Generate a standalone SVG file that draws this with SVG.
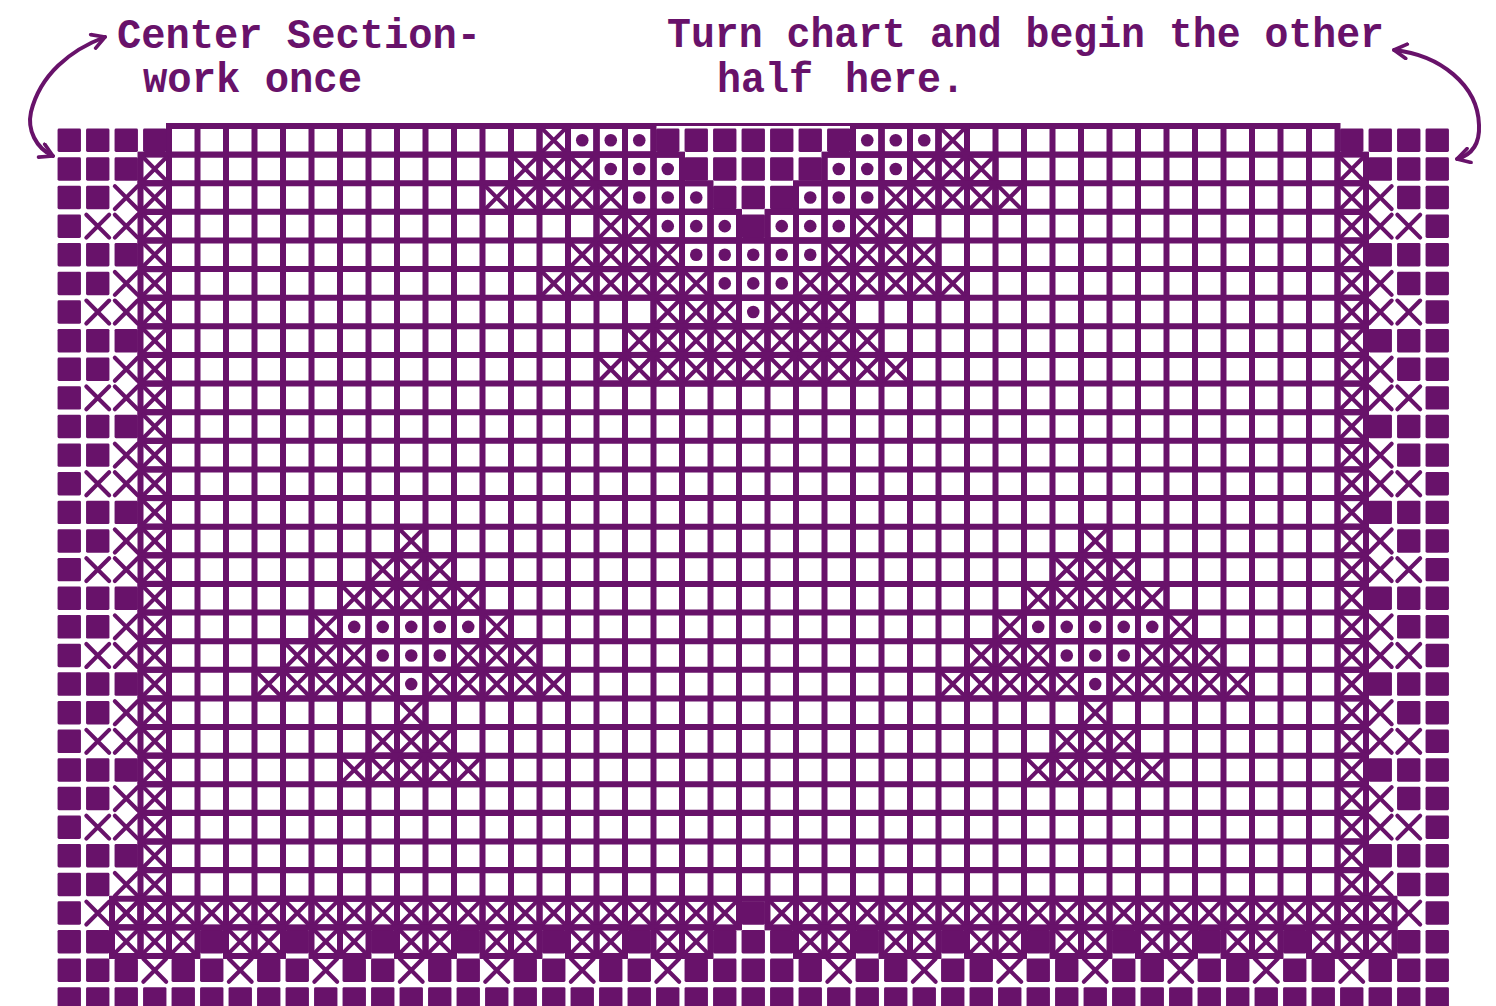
<svg xmlns="http://www.w3.org/2000/svg" width="1496" height="1006" viewBox="0 0 1496 1006">
<style>
.p{fill:#68126a}
.b{fill:none;stroke:#68126a;stroke-width:.21}
.s{fill:none;stroke:#68126a;stroke-width:.145;stroke-linecap:round}
.g{fill:none;stroke:#68126a;stroke-width:.21;stroke-linecap:square}
.t{font-family:"Liberation Mono","DejaVu Sans Mono",monospace;font-weight:bold;font-size:42px;fill:#68126a}
.a{fill:none;stroke:#68126a;stroke-width:4;stroke-linecap:round}
</style>
<defs>
<marker id="ah" viewBox="0 0 10 10" refX="8.5" refY="5" markerWidth="4.5" markerHeight="4.5" orient="auto-start-reverse"><path d="M1.5 1L8.5 5L1.5 9" fill="none" stroke="#68126a" stroke-width="2" stroke-linecap="round" stroke-linejoin="round"/></marker>
<rect id="f" x=".09" y=".09" width=".82" height=".82" rx=".05" class="p"/>
<path id="u" d="M.1 .1L.9 .9M.9 .1L.1 .9" class="s"/>
<g id="x"><rect width="1" height="1" class="b"/><use href="#u"/></g>
<g id="d"><rect width="1" height="1" class="b"/><circle cx=".5" cy=".5" r=".22" class="p"/></g>
<g id="b1"><use href="#f" x="0"/><use href="#f" x="1"/><use href="#f" x="2"/><use href="#x" x="3"/><use href="#x" x="45"/><use href="#f" x="46"/><use href="#f" x="47"/><use href="#f" x="48"/></g>
<g id="b2"><use href="#f" x="0"/><use href="#f" x="1"/><use href="#u" x="2"/><use href="#x" x="3"/><use href="#x" x="45"/><use href="#u" x="46"/><use href="#f" x="47"/><use href="#f" x="48"/></g>
<g id="b0"><use href="#f" x="0"/><use href="#u" x="1"/><use href="#u" x="2"/><use href="#x" x="3"/><use href="#x" x="45"/><use href="#u" x="46"/><use href="#u" x="47"/><use href="#f" x="48"/></g>
</defs>
<rect width="1496" height="1006" fill="#fff"/>
<g id="chart" transform="translate(55,126) scale(28.5,28.62)">
<path id="grid" class="g" d="M4 0V27M5 0V27M6 0V27M7 0V27M8 0V27M9 0V27M10 0V27M11 0V27M12 0V27M13 0V27M14 0V27M15 0V27M16 0V27M17 0V27M18 0V27M19 0V27M20 0V27M21 0V27M22 0V27M23 0V27M24 0V27M25 0V27M26 0V27M27 0V27M28 0V27M29 0V27M30 0V27M31 0V27M32 0V27M33 0V27M34 0V27M35 0V27M36 0V27M37 0V27M38 0V27M39 0V27M40 0V27M41 0V27M42 0V27M43 0V27M44 0V27M45 0V27M4 0H45M4 1H45M4 2H45M4 3H45M4 4H45M4 5H45M4 6H45M4 7H45M4 8H45M4 9H45M4 10H45M4 11H45M4 12H45M4 13H45M4 14H45M4 15H45M4 16H45M4 17H45M4 18H45M4 19H45M4 20H45M4 21H45M4 22H45M4 23H45M4 24H45M4 25H45M4 26H45M4 27H45"/>
<path d="M21 0H28V1H27V2H26V3H25V4H24V3H23V2H22V1H21Z" fill="#fff"/>
<g id="border">
<use href="#b1" y="1"/><use href="#b2" y="2"/><use href="#b0" y="3"/>
<use href="#b1" y="4"/><use href="#b2" y="5"/><use href="#b0" y="6"/>
<use href="#b1" y="7"/><use href="#b2" y="8"/><use href="#b0" y="9"/>
<use href="#b1" y="10"/><use href="#b2" y="11"/><use href="#b0" y="12"/>
<use href="#b1" y="13"/><use href="#b2" y="14"/><use href="#b0" y="15"/>
<use href="#b1" y="16"/><use href="#b2" y="17"/><use href="#b0" y="18"/>
<use href="#b1" y="19"/><use href="#b2" y="20"/><use href="#b0" y="21"/>
<use href="#b1" y="22"/><use href="#b2" y="23"/><use href="#b0" y="24"/>
<use href="#b1" y="25"/><use href="#b2" y="26"/><use href="#b0" y="27"/>
</g>
<g id="filled">
<g><use href="#f" x="0"/><use href="#f" x="1"/><use href="#f" x="2"/><use href="#f" x="3"/><use href="#f" x="21"/><use href="#f" x="22"/><use href="#f" x="23"/><use href="#f" x="24"/><use href="#f" x="25"/><use href="#f" x="26"/><use href="#f" x="27"/><use href="#f" x="45"/><use href="#f" x="46"/><use href="#f" x="47"/><use href="#f" x="48"/></g>
<g transform="translate(0,1)"><use href="#f" x="22"/><use href="#f" x="23"/><use href="#f" x="24"/><use href="#f" x="25"/><use href="#f" x="26"/></g>
<g transform="translate(0,2)"><use href="#f" x="23"/><use href="#f" x="24"/><use href="#f" x="25"/></g>
<g transform="translate(0,3)"><use href="#f" x="24"/></g>
<g transform="translate(0,27)"><use href="#f" x="24"/></g>
<g transform="translate(0,28)"><use href="#f" x="0"/><use href="#f" x="1"/><use href="#f" x="5"/><use href="#f" x="8"/><use href="#f" x="11"/><use href="#f" x="14"/><use href="#f" x="17"/><use href="#f" x="20"/><use href="#f" x="23"/><use href="#f" x="24"/><use href="#f" x="25"/><use href="#f" x="28"/><use href="#f" x="31"/><use href="#f" x="34"/><use href="#f" x="37"/><use href="#f" x="40"/><use href="#f" x="43"/><use href="#f" x="47"/><use href="#f" x="48"/></g>
<g transform="translate(0,29)"><use href="#f" x="0"/><use href="#f" x="1"/><use href="#f" x="2"/><use href="#f" x="4"/><use href="#f" x="5"/><use href="#f" x="7"/><use href="#f" x="8"/><use href="#f" x="10"/><use href="#f" x="11"/><use href="#f" x="13"/><use href="#f" x="14"/><use href="#f" x="16"/><use href="#f" x="17"/><use href="#f" x="19"/><use href="#f" x="20"/><use href="#f" x="22"/><use href="#f" x="23"/><use href="#f" x="24"/><use href="#f" x="25"/><use href="#f" x="26"/><use href="#f" x="28"/><use href="#f" x="29"/><use href="#f" x="31"/><use href="#f" x="32"/><use href="#f" x="34"/><use href="#f" x="35"/><use href="#f" x="37"/><use href="#f" x="38"/><use href="#f" x="40"/><use href="#f" x="41"/><use href="#f" x="43"/><use href="#f" x="44"/><use href="#f" x="46"/><use href="#f" x="47"/><use href="#f" x="48"/></g>
<g transform="translate(0,30)"><use href="#f" x="0"/><use href="#f" x="1"/><use href="#f" x="2"/><use href="#f" x="3"/><use href="#f" x="4"/><use href="#f" x="5"/><use href="#f" x="6"/><use href="#f" x="7"/><use href="#f" x="8"/><use href="#f" x="9"/><use href="#f" x="10"/><use href="#f" x="11"/><use href="#f" x="12"/><use href="#f" x="13"/><use href="#f" x="14"/><use href="#f" x="15"/><use href="#f" x="16"/><use href="#f" x="17"/><use href="#f" x="18"/><use href="#f" x="19"/><use href="#f" x="20"/><use href="#f" x="21"/><use href="#f" x="22"/><use href="#f" x="23"/><use href="#f" x="24"/><use href="#f" x="25"/><use href="#f" x="26"/><use href="#f" x="27"/><use href="#f" x="28"/><use href="#f" x="29"/><use href="#f" x="30"/><use href="#f" x="31"/><use href="#f" x="32"/><use href="#f" x="33"/><use href="#f" x="34"/><use href="#f" x="35"/><use href="#f" x="36"/><use href="#f" x="37"/><use href="#f" x="38"/><use href="#f" x="39"/><use href="#f" x="40"/><use href="#f" x="41"/><use href="#f" x="42"/><use href="#f" x="43"/><use href="#f" x="44"/><use href="#f" x="45"/><use href="#f" x="46"/><use href="#f" x="47"/><use href="#f" x="48"/></g>
</g>
<g id="top-motif">
<g><use href="#x" x="17"/><use href="#d" x="18"/><use href="#d" x="19"/><use href="#d" x="20"/><use href="#d" x="28"/><use href="#d" x="29"/><use href="#d" x="30"/><use href="#x" x="31"/></g>
<g transform="translate(0,1)"><use href="#x" x="16"/><use href="#x" x="17"/><use href="#x" x="18"/><use href="#d" x="19"/><use href="#d" x="20"/><use href="#d" x="21"/><use href="#d" x="27"/><use href="#d" x="28"/><use href="#d" x="29"/><use href="#x" x="30"/><use href="#x" x="31"/><use href="#x" x="32"/></g>
<g transform="translate(0,2)"><use href="#x" x="15"/><use href="#x" x="16"/><use href="#x" x="17"/><use href="#x" x="18"/><use href="#x" x="19"/><use href="#d" x="20"/><use href="#d" x="21"/><use href="#d" x="22"/><use href="#d" x="26"/><use href="#d" x="27"/><use href="#d" x="28"/><use href="#x" x="29"/><use href="#x" x="30"/><use href="#x" x="31"/><use href="#x" x="32"/><use href="#x" x="33"/></g>
<g transform="translate(0,3)"><use href="#x" x="19"/><use href="#x" x="20"/><use href="#d" x="21"/><use href="#d" x="22"/><use href="#d" x="23"/><use href="#d" x="25"/><use href="#d" x="26"/><use href="#d" x="27"/><use href="#x" x="28"/><use href="#x" x="29"/></g>
<g transform="translate(0,4)"><use href="#x" x="18"/><use href="#x" x="19"/><use href="#x" x="20"/><use href="#x" x="21"/><use href="#d" x="22"/><use href="#d" x="23"/><use href="#d" x="24"/><use href="#d" x="25"/><use href="#d" x="26"/><use href="#x" x="27"/><use href="#x" x="28"/><use href="#x" x="29"/><use href="#x" x="30"/></g>
<g transform="translate(0,5)"><use href="#x" x="17"/><use href="#x" x="18"/><use href="#x" x="19"/><use href="#x" x="20"/><use href="#x" x="21"/><use href="#x" x="22"/><use href="#d" x="23"/><use href="#d" x="24"/><use href="#d" x="25"/><use href="#x" x="26"/><use href="#x" x="27"/><use href="#x" x="28"/><use href="#x" x="29"/><use href="#x" x="30"/><use href="#x" x="31"/></g>
<g transform="translate(0,6)"><use href="#x" x="21"/><use href="#x" x="22"/><use href="#x" x="23"/><use href="#d" x="24"/><use href="#x" x="25"/><use href="#x" x="26"/><use href="#x" x="27"/></g>
<g transform="translate(0,7)"><use href="#x" x="20"/><use href="#x" x="21"/><use href="#x" x="22"/><use href="#x" x="23"/><use href="#x" x="24"/><use href="#x" x="25"/><use href="#x" x="26"/><use href="#x" x="27"/><use href="#x" x="28"/></g>
<g transform="translate(0,8)"><use href="#x" x="19"/><use href="#x" x="20"/><use href="#x" x="21"/><use href="#x" x="22"/><use href="#x" x="23"/><use href="#x" x="24"/><use href="#x" x="25"/><use href="#x" x="26"/><use href="#x" x="27"/><use href="#x" x="28"/><use href="#x" x="29"/></g>
</g>
<g id="star-left">
<g transform="translate(0,14)"><use href="#x" x="12"/></g>
<g transform="translate(0,15)"><use href="#x" x="11"/><use href="#x" x="12"/><use href="#x" x="13"/></g>
<g transform="translate(0,16)"><use href="#x" x="10"/><use href="#x" x="11"/><use href="#x" x="12"/><use href="#x" x="13"/><use href="#x" x="14"/></g>
<g transform="translate(0,17)"><use href="#x" x="9"/><use href="#d" x="10"/><use href="#d" x="11"/><use href="#d" x="12"/><use href="#d" x="13"/><use href="#d" x="14"/><use href="#x" x="15"/></g>
<g transform="translate(0,18)"><use href="#x" x="8"/><use href="#x" x="9"/><use href="#x" x="10"/><use href="#d" x="11"/><use href="#d" x="12"/><use href="#d" x="13"/><use href="#x" x="14"/><use href="#x" x="15"/><use href="#x" x="16"/></g>
<g transform="translate(0,19)"><use href="#x" x="7"/><use href="#x" x="8"/><use href="#x" x="9"/><use href="#x" x="10"/><use href="#x" x="11"/><use href="#d" x="12"/><use href="#x" x="13"/><use href="#x" x="14"/><use href="#x" x="15"/><use href="#x" x="16"/><use href="#x" x="17"/></g>
<g transform="translate(0,20)"><use href="#x" x="12"/></g>
<g transform="translate(0,21)"><use href="#x" x="11"/><use href="#x" x="12"/><use href="#x" x="13"/></g>
<g transform="translate(0,22)"><use href="#x" x="10"/><use href="#x" x="11"/><use href="#x" x="12"/><use href="#x" x="13"/><use href="#x" x="14"/></g>
</g>
<use id="star-right" href="#star-left" x="24"/>
<g id="bottom-band">
<g transform="translate(0,27)"><use href="#x" x="2"/><use href="#x" x="3"/><use href="#x" x="4"/><use href="#x" x="5"/><use href="#x" x="6"/><use href="#x" x="7"/><use href="#x" x="8"/><use href="#x" x="9"/><use href="#x" x="10"/><use href="#x" x="11"/><use href="#x" x="12"/><use href="#x" x="13"/><use href="#x" x="14"/><use href="#x" x="15"/><use href="#x" x="16"/><use href="#x" x="17"/><use href="#x" x="18"/><use href="#x" x="19"/><use href="#x" x="20"/><use href="#x" x="21"/><use href="#x" x="22"/><use href="#x" x="23"/><use href="#x" x="25"/><use href="#x" x="26"/><use href="#x" x="27"/><use href="#x" x="28"/><use href="#x" x="29"/><use href="#x" x="30"/><use href="#x" x="31"/><use href="#x" x="32"/><use href="#x" x="33"/><use href="#x" x="34"/><use href="#x" x="35"/><use href="#x" x="36"/><use href="#x" x="37"/><use href="#x" x="38"/><use href="#x" x="39"/><use href="#x" x="40"/><use href="#x" x="41"/><use href="#x" x="42"/><use href="#x" x="43"/><use href="#x" x="44"/><use href="#x" x="45"/><use href="#x" x="46"/></g>
<g transform="translate(0,28)"><use href="#x" x="2"/><use href="#x" x="3"/><use href="#x" x="4"/><use href="#x" x="6"/><use href="#x" x="7"/><use href="#x" x="9"/><use href="#x" x="10"/><use href="#x" x="12"/><use href="#x" x="13"/><use href="#x" x="15"/><use href="#x" x="16"/><use href="#x" x="18"/><use href="#x" x="19"/><use href="#x" x="21"/><use href="#x" x="22"/><use href="#x" x="26"/><use href="#x" x="27"/><use href="#x" x="29"/><use href="#x" x="30"/><use href="#x" x="32"/><use href="#x" x="33"/><use href="#x" x="35"/><use href="#x" x="36"/><use href="#x" x="38"/><use href="#x" x="39"/><use href="#x" x="41"/><use href="#x" x="42"/><use href="#x" x="44"/><use href="#x" x="45"/><use href="#x" x="46"/></g>
<g transform="translate(0,29)"><use href="#u" x="3"/><use href="#u" x="6"/><use href="#u" x="9"/><use href="#u" x="12"/><use href="#u" x="15"/><use href="#u" x="18"/><use href="#u" x="21"/><use href="#u" x="27"/><use href="#u" x="30"/><use href="#u" x="33"/><use href="#u" x="36"/><use href="#u" x="39"/><use href="#u" x="42"/><use href="#u" x="45"/></g>
</g>
</g>
<g id="labels">
<text class="t" x="117" y="48" textLength="364" lengthAdjust="spacingAndGlyphs">Center Section-</text>
<text class="t" x="143" y="92" textLength="219" lengthAdjust="spacingAndGlyphs">work once</text>
<text class="t" x="667" y="47" textLength="717" lengthAdjust="spacingAndGlyphs">Turn chart and begin the other</text>
<text class="t" x="717" y="92" textLength="96" lengthAdjust="spacingAndGlyphs">half</text>
<text class="t" x="845" y="92" textLength="120" lengthAdjust="spacingAndGlyphs">here.</text>
</g>
<g id="connectors">
<path class="a" d="M105 37C70 50 40 75 31 112C27 130 36 148 53 156" marker-start="url(#ah)" marker-end="url(#ah)"/>
<path class="a" d="M1394 50C1440 55 1478 85 1479 125C1480 145 1471 155 1457 159" marker-start="url(#ah)" marker-end="url(#ah)"/>
</g>
</svg>
